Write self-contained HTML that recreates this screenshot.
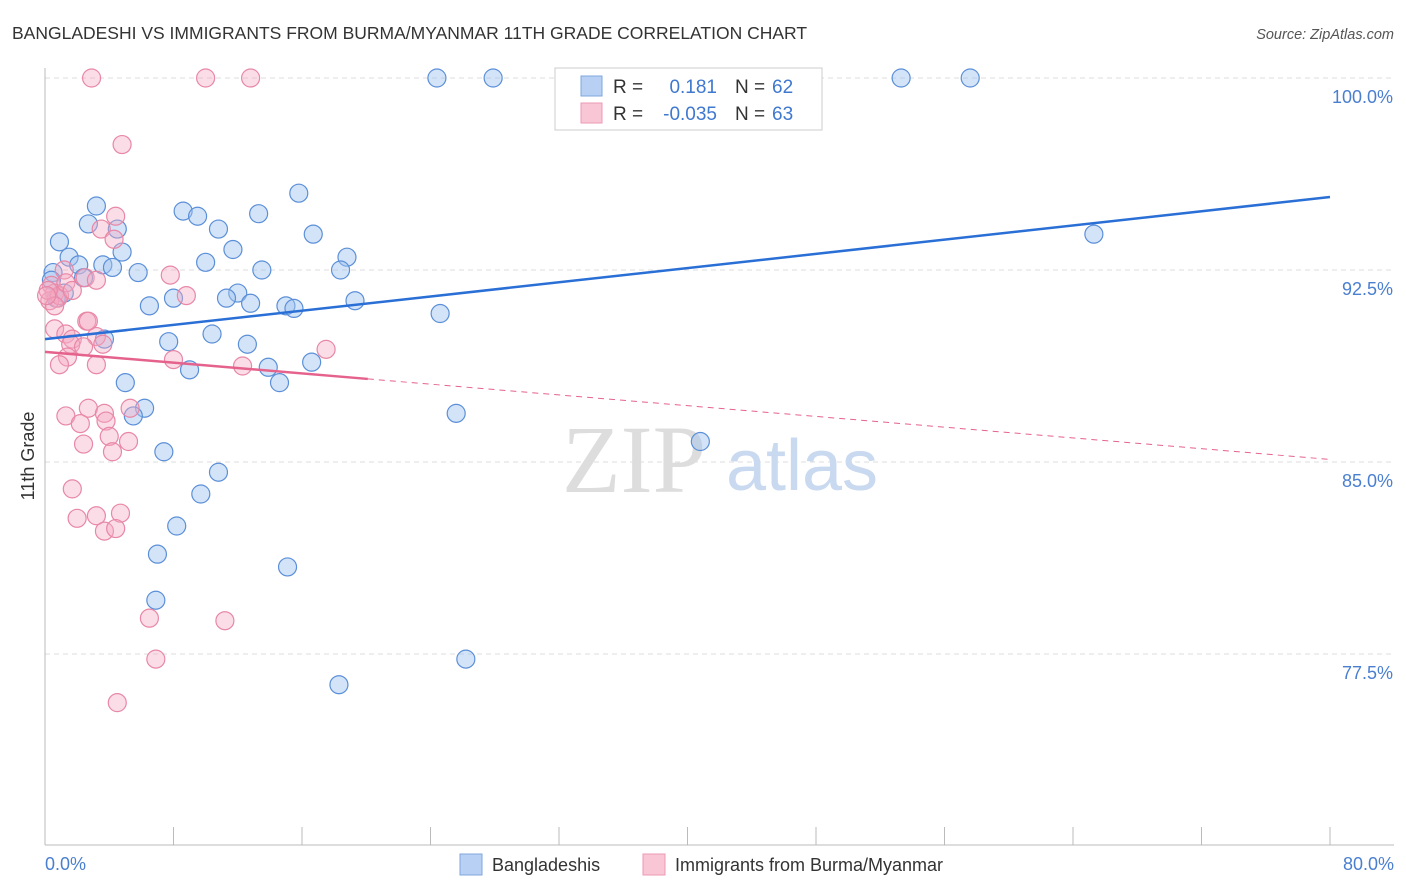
<!DOCTYPE html>
<html><head><meta charset="utf-8"><style>
body{margin:0;background:#fff;font-family:"Liberation Sans",sans-serif;}
svg{display:block}
</style></head><body>
<svg id="chart" width="1406" height="892" xmlns="http://www.w3.org/2000/svg" font-family="Liberation Sans, sans-serif">
<text x="12" y="39" font-size="17.5" fill="#333">BANGLADESHI VS IMMIGRANTS FROM BURMA/MYANMAR 11TH GRADE CORRELATION CHART</text>
<text x="1394" y="39" font-size="14.5" fill="#555" font-style="italic" text-anchor="end">Source: ZipAtlas.com</text>
<g id="grid"></g>
<text x="634" y="492" font-size="96" fill="#ddd" font-family="Liberation Serif, serif" text-anchor="middle">ZIP</text>
<text x="802" y="490" font-size="72" fill="#c9d9f0" text-anchor="middle">atlas</text>
<line x1="45" y1="68" x2="45" y2="845" stroke="#bbb"/>
<line x1="45" y1="845" x2="1394" y2="845" stroke="#bbb"/>
<g id="xticks"></g>
<g id="ylabels"></g>
<text x="45" y="870" font-size="18" fill="#4a7fd0">0.0%</text>
<text x="1394" y="870" font-size="18" fill="#4a7fd0" text-anchor="end">80.0%</text>
<text transform="translate(34,456) rotate(-90)" font-size="18" fill="#333" text-anchor="middle">11th Grade</text>
<g id="pts"></g>
<g id="trends"></g>
<g>
<rect x="555" y="68" width="267" height="62" fill="#fff" stroke="#ccc"/>
<rect x="581" y="76" width="21" height="20" fill="#b8d0f3" stroke="#7fa6de"/>
<rect x="581" y="103" width="21" height="20" fill="#f9c6d5" stroke="#ec9ab4"/>
<text x="613" y="93" font-size="19" fill="#333">R =</text>
<text x="717" y="93" font-size="19" fill="#3f78cf" text-anchor="end">0.181</text>
<text x="735" y="93" font-size="19" fill="#333">N =</text>
<text x="772" y="93" font-size="19" fill="#3f78cf">62</text>
<text x="613" y="120" font-size="19" fill="#333">R =</text>
<text x="717" y="120" font-size="19" fill="#3f78cf" text-anchor="end">-0.035</text>
<text x="735" y="120" font-size="19" fill="#333">N =</text>
<text x="772" y="120" font-size="19" fill="#3f78cf">63</text>
</g>
<g>
<rect x="460" y="854" width="22" height="21" fill="#b8d0f3" stroke="#7fa6de"/>
<text x="492" y="871" font-size="18" fill="#333">Bangladeshis</text>
<rect x="643" y="854" width="22" height="21" fill="#f9c6d5" stroke="#ec9ab4"/>
<text x="675" y="871" font-size="18" fill="#333">Immigrants from Burma/Myanmar</text>
</g>
</svg>
<script>
const yTicks=[100,92.5,85,77.5];
const yTickLabels=["100.0%","92.5%","85.0%","77.5%"];
const blueX=[24.4,27.9,53.3,57.6,3.2,8.6,9.5,15.8,13.3,2.7,4.5,10.8,16.7,0.9,65.3,11.7,18.8,4.8,1.5,10.0,3.6,4.2,2.1,0.5,13.5,18.4,5.8,2.4,12.0,11.3,8.0,12.8,15.0,15.5,19.3,6.5,1.2,0.7,24.6,10.4,3.7,7.7,12.6,16.6,9.0,13.9,14.6,5.0,6.2,5.5,25.6,40.8,7.4,10.8,9.7,8.2,7.0,15.1,6.9,26.2,18.3,0.4];
const blueY=[100,100,100,100,95.0,94.8,94.6,95.5,94.7,94.3,94.1,94.1,93.9,93.6,93.9,93.3,93.0,93.2,93.0,92.8,92.7,92.6,92.7,92.4,92.5,92.5,92.4,92.2,91.6,91.4,91.4,91.2,91.1,91.0,91.3,91.1,91.6,91.4,90.8,90.0,89.8,89.7,89.6,88.9,88.6,88.7,88.1,88.1,87.1,86.8,86.9,85.8,85.4,84.6,83.75,82.5,81.4,80.9,79.6,77.3,76.3,92.1];
const pinkX=[2.9,10.0,12.8,4.8,4.4,3.5,4.3,1.2,2.5,3.2,7.8,8.8,0.4,0.6,0.8,0.3,0.9,0.2,0.6,2.6,0.6,1.3,2.7,1.7,3.2,1.6,3.6,2.4,1.4,0.9,3.2,8.0,12.3,17.5,2.7,3.7,5.3,1.3,2.2,3.8,2.4,4.0,4.2,5.2,1.7,2.0,3.2,4.7,3.7,4.4,6.5,11.2,6.9,4.5,1.3,1.7,0.1];
const pinkY=[100,100,100,97.4,94.6,94.1,93.7,92.5,92.2,92.1,92.3,91.5,91.9,91.6,91.4,91.3,91.5,91.7,91.1,90.5,90.2,90.0,90.5,89.8,89.9,89.6,89.6,89.5,89.1,88.8,88.8,89.0,88.75,89.4,87.1,86.9,87.1,86.8,86.5,86.6,85.7,86.0,85.4,85.8,83.95,82.8,82.9,83.0,82.3,82.4,78.9,78.8,77.3,75.6,92.0,91.7,91.5];
const blueTrend=[89.8,95.35];
const pinkTrend=[89.3,85.1];
const pinkSolidEnd=20.1;
const NS="http://www.w3.org/2000/svg";
const xs=v=>45+v/80*1285;
const ys=v=>78+(100-v)*25.6;
function mk(t,a,p){const e=document.createElementNS(NS,t);for(const k in a)e.setAttribute(k,a[k]);p.appendChild(e);return e;}
const grid=document.getElementById('grid'),yl=document.getElementById('ylabels');
yTicks.forEach((t,i)=>{
 const l=mk('line',{x1:45,x2:1394,y1:ys(t),y2:ys(t),stroke:'#ddd','stroke-dasharray':'5,4'},grid);
 
 
 const tx=mk('text',{x:1393,y:ys(t)+25,'font-size':18,fill:'#4a7fd0','text-anchor':'end'},yl);
 tx.textContent=yTickLabels[i];
 
 
});
const xt=document.getElementById('xticks');
for(let i=0;i<=10;i++){const x=45+i*128.5;const l=mk('line',{x1:x,x2:x,y1:827,y2:845,stroke:'#bbb'},xt);
 
 }
const pts=document.getElementById('pts');
blueX.forEach((v,i)=>{const c=mk('circle',{cx:xs(v),cy:ys(blueY[i]),r:9,fill:'rgba(160,195,240,0.45)',stroke:'#5b8fd8','stroke-width':1.2},pts);
 
 });
pinkX.forEach((v,i)=>{const c=mk('circle',{cx:xs(v),cy:ys(pinkY[i]),r:9,fill:'rgba(245,170,195,0.4)',stroke:'#e887a6','stroke-width':1.2},pts);
 
 });
const tr=document.getElementById('trends');
const pAt=x=>pinkTrend[0]+(pinkTrend[1]-pinkTrend[0])*x/80;
const b=mk('line',{x1:xs(0),y1:ys(blueTrend[0]),x2:xs(80),y2:ys(blueTrend[1]),stroke:'#2a6fd6','stroke-width':2.5},tr);


const p1=mk('line',{x1:xs(0),y1:ys(pAt(0)),x2:xs(pinkSolidEnd),y2:ys(pAt(pinkSolidEnd)),stroke:'#e5628c','stroke-width':2.5},tr);


const p2=mk('line',{x1:xs(pinkSolidEnd),y1:ys(pAt(pinkSolidEnd)),x2:xs(80),y2:ys(pAt(80)),stroke:'#e5628c','stroke-width':1,'stroke-dasharray':'6,5'},tr);


</script>
</body></html>
